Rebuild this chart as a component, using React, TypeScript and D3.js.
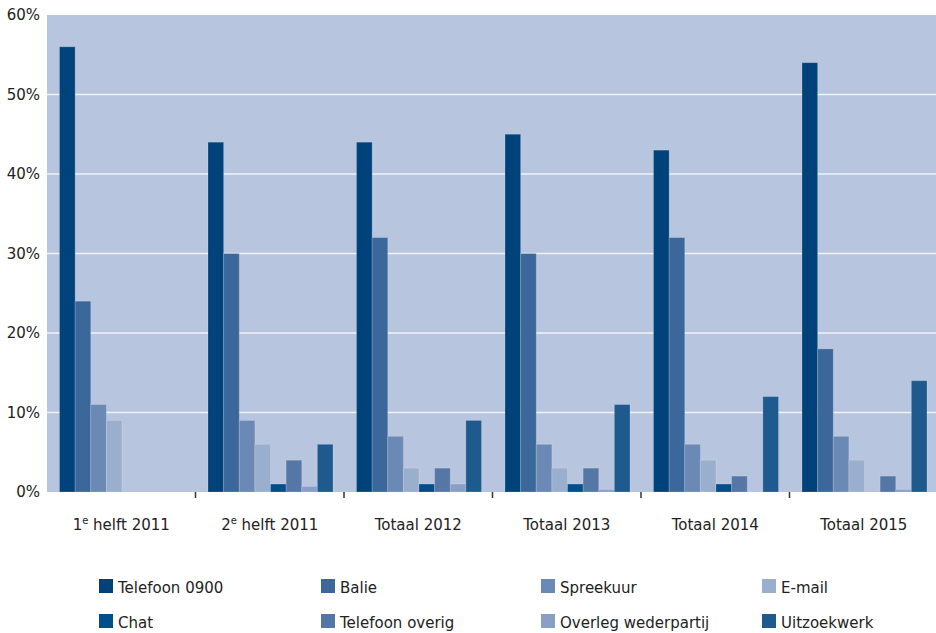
import React from "react";
import * as d3 from "d3";

const categories = ["1e helft 2011", "2e helft 2011", "Totaal 2012", "Totaal 2013", "Totaal 2014", "Totaal 2015"];
const seriesNames = ["Telefoon 0900", "Balie", "Spreekuur", "E-mail", "Chat", "Telefoon overig", "Overleg wederpartij", "Uitzoekwerk"];
const telefoon0900 = [56, 44, 44, 45, 43, 54];
const balie = [24, 30, 32, 30, 32, 18];
const spreekuur = [11, 9, 7, 6, 6, 7];
const email = [9, 6, 3, 3, 4, 4];
const chat = [0, 1, 1, 1, 1, 0];
const telefoonOverig = [0, 4, 3, 3, 2, 2];
const overleg = [0, 0.7, 1, 0.3, 0, 0.3];
const uitzoekwerk = [0, 6, 9, 11, 12, 14];
const yTicks = [0, 10, 20, 30, 40, 50, 60];

const seriesValues = [telefoon0900, balie, spreekuur, email, chat, telefoonOverig, overleg, uitzoekwerk];
const colors = ["#00427a", "#3b679b", "#6a89b4", "#9aaecd", "#004e8a", "#5577a6", "#889fc6", "#1f5a8e"];

const W = 936;
const H = 633;
const left = 47;
const right = 938;
const top = 15;
const bottom = 492;
const font = "'DejaVu Sans', Verdana, sans-serif";

export default function App() {
  const x = d3.scaleBand<string>().domain(categories).range([left, right]).paddingInner(0).paddingOuter(0);
  const xi = d3.scaleBand<string>().domain(seriesNames).range([12.5, x.bandwidth() - 11]).padding(0);
  const y = d3.scaleLinear().domain([0, 60]).range([bottom, top]);

  const renderLabel = (c: string) => {
    const m = c.match(/^(\d)(e)( .*)$/);
    if (m) {
      return (
        <>
          <tspan>{m[1]}</tspan>
          <tspan dy={-6} fontSize={10}>{m[2]}</tspan>
          <tspan dy={6}>{m[3]}</tspan>
        </>
      );
    }
    return c;
  };

  return (
    <svg width={W} height={H} style={{ position: "absolute", left: 0, top: 0 }} fontFamily={font}>
      <rect x={left} y={top} width={right - left} height={bottom - top} fill="#b8c5de" />
      {yTicks.filter((t) => t > 0 && t < 60).map((t) => (
        <line key={t} x1={left} x2={right} y1={y(t)} y2={y(t)} stroke="#f0f3f8" strokeWidth={1.5} />
      ))}
      {yTicks.map((t) => (
        <text key={t} x={40} y={y(t)} dy="0.35em" textAnchor="end" fontSize={15} fill="#222">
          {t}%
        </text>
      ))}
      {categories.map((c, ci) => (
        <g key={c} transform={`translate(${x(c)},0)`}>
          {seriesNames.map((s, si) => {
            const v = seriesValues[si][ci];
            if (!v) return null;
            return (
              <rect
                key={s}
                x={xi(s)!}
                y={y(v)}
                width={xi.bandwidth()}
                height={bottom - y(v)}
                fill={colors[si]}
                stroke="#ffffff"
                strokeOpacity={0.18}
                strokeWidth={1}
              />
            );
          })}
        </g>
      ))}
      {categories.slice(1).map((c) => (
        <line key={c} x1={x(c)!} x2={x(c)!} y1={bottom} y2={bottom + 6} stroke="#333" strokeWidth={1.5} />
      ))}
      {categories.map((c) => (
        <text key={c} x={x(c)! + x.bandwidth() / 2} y={530} textAnchor="middle" fontSize={15} fill="#222">
          {renderLabel(c)}
        </text>
      ))}
      {seriesNames.map((s, i) => {
        const col = i % 4;
        const row = Math.floor(i / 4);
        const lx = [99, 321, 541, 762][col];
        const ly = 579 + row * 35;
        return (
          <g key={s}>
            <rect x={lx} y={ly} width={14} height={14} fill={colors[i]} />
            <text x={lx + 19} y={ly + 14} fontSize={15} fill="#222">
              {s}
            </text>
          </g>
        );
      })}
    </svg>
  );
}
